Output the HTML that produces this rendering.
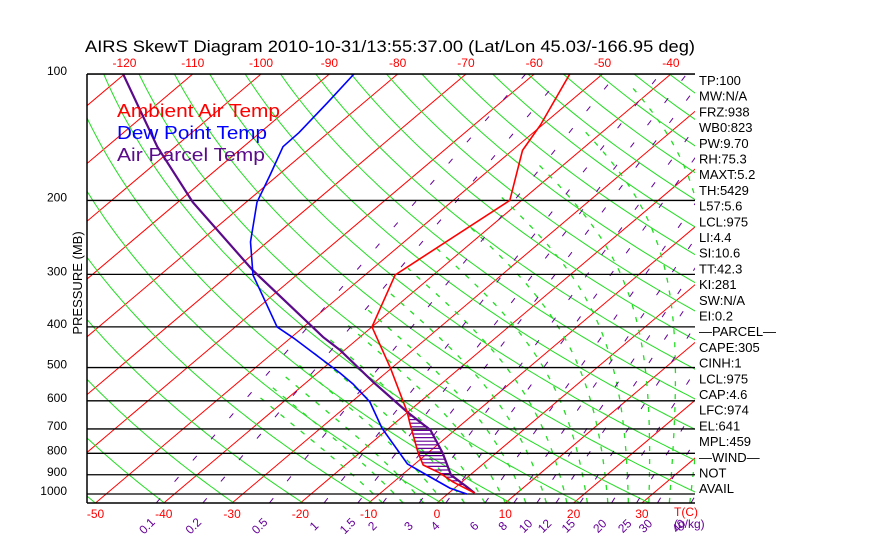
<!DOCTYPE html>
<html><head><meta charset="utf-8"><style>
body{margin:0;background:#fff;}
svg{display:block;font-family:"Liberation Sans",sans-serif;}
</style></head><body>
<svg id="chart" width="870" height="560" viewBox="0 0 870 560">
<defs><clipPath id="plotclip"><rect x="87" y="74" width="608" height="429"/></clipPath></defs>
<text x="85" y="52" font-size="17" fill="#000" textLength="610" lengthAdjust="spacingAndGlyphs">AIRS SkewT Diagram 2010-10-31/13:55:37.00 (Lat/Lon 45.03/-166.95 deg)</text>
<g id="grid" clip-path="url(#plotclip)"></g>
<g id="series" clip-path="url(#plotclip)"></g>
<g id="labels"></g>
<text x="117" y="117" font-size="18" fill="#ff0000" textLength="163" lengthAdjust="spacingAndGlyphs">Ambient Air Temp</text>
<text x="117" y="139" font-size="18" fill="#0000ff" textLength="150" lengthAdjust="spacingAndGlyphs">Dew Point Temp</text>
<text x="117" y="161" font-size="18" fill="#5a0a8a" textLength="148" lengthAdjust="spacingAndGlyphs">Air Parcel Temp</text>
<text transform="translate(82,283) rotate(-90)" text-anchor="middle" font-size="13" fill="#000">PRESSURE (MB)</text>
</svg>
<script>
// ---- data ----
const tempP = [100,132,152,200,277,301,400,501,638,678,799,853,891,936,995];
const tempT = [-54.8,-50.3,-48.5,-41.7,-44.8,-45.6,-40.0,-30.2,-20.1,-17.8,-11.4,-8.6,-4.8,-1.3,3.8];
const dewP = [100,117,138,149,174,202,251,301,400,425,515,547,604,697,848,911,968,1000];
const dewT = [-86.4,-85.3,-84.3,-84.2,-81.2,-78.4,-72.5,-66.4,-53.9,-49.6,-36.7,-32.9,-27.3,-21.0,-11.1,-5.5,-0.7,2.8];
const parcelP = [100,149,202,293,423,454,541,638,704,799,901,962,995];
const parcelT = [-120.2,-102.6,-87.8,-67.3,-45.4,-40.7,-30.3,-20.1,-13.6,-7.8,-2.8,1.6,3.8];
const pressureTicks = [100,200,300,400,500,600,700,800,900,1000];
const topTempTicks = [-120,-110,-100,-90,-80,-70,-60,-50,-40];
const bottomTempTicks = [-50,-40,-30,-20,-10,0,10,20,30];
const mixRatios = [0.1,0.2,0.5,1,1.5,2,3,4,6,8,10,12,15,20,25,30,40];
const mixLabels = ["0.1","0.2","0.5","1","1.5","2","3","4","6","8","10","12","15","20","25","30","40"];
const sideInfo = ["TP:100","MW:N/A","FRZ:938","WB0:823","PW:9.70","RH:75.3","MAXT:5.2","TH:5429","L57:5.6","LCL:975","LI:4.4","SI:10.6","TT:42.3","KI:281","SW:N/A","EI:0.2","\u2014PARCEL\u2014","CAPE:305","CINH:1","LCL:975","CAP:4.6","LFC:974","EL:641","MPL:459","\u2014WIND\u2014","NOT","AVAIL"];

// ---- axes ----
const NS='http://www.w3.org/2000/svg';
const YB=503;
function yOf(p){return 74+420*Math.log10(p/100);}
function xOf(T,p){return 437+6.83*T+1.182*(YB-yOf(p));}
function mk(tag,parent,attrs){const e=document.createElementNS(NS,tag);for(const k in attrs)e.setAttribute(k,attrs[k]);parent.appendChild(e);return e;}
const grid=document.getElementById('grid'),series=document.getElementById('series'),labels=document.getElementById('labels');
const pAll=[];for(let p=1050;p>=95;p-=5)pAll.push(p);

// isotherms
for(let T=-140;T<=60;T+=10){
  const l=mk('line',grid,{x1:xOf(T,1070),y1:yOf(1070),x2:xOf(T,95),y2:yOf(95),stroke:'#ff0000','stroke-width':1});
  
  
}
// dry adiabats
for(let th=180;th<=520;th+=10){
  const d=pAll.map((p,i)=>(i?'L':'M')+xOf(th*Math.pow(p/1000,0.286)-273.15,p).toFixed(1)+','+yOf(p).toFixed(1)).join('');
  const e=mk('path',grid,{d:d,fill:'none',stroke:'#22dd22','stroke-width':1});
  
  
}
// moist adiabats (drawn until -45C)
function es(T){return 6.112*Math.exp(17.67*T/(T+243.5));}
for(let T0=-8;T0<=44;T0+=3){
  let T=T0+273.15,pts=[];
  for(let p=1050;p>=100;p-=5){
    if(T-273.15<-45)break;
    pts.push([xOf(T-273.15,p),yOf(p)]);
    const e=es(T-273.15),rs=0.622*e/(p-e);
    const dTdp=(287*T+2.5e6*rs)/(p*(1004+2.5e6*2.5e6*rs*0.622/(287*T*T)));
    T-=dTdp*5;
  }
  if(pts.length<2)continue;
  const e=mk('path',grid,{d:pts.map((q,i)=>(i?'L':'M')+q[0].toFixed(1)+','+q[1].toFixed(1)).join(''),fill:'none',stroke:'#22dd22','stroke-width':1.3,'stroke-dasharray':'5 8'});
  
  
}
// mixing ratio lines
function tdFromW(w,p){const e=w*p/(622+w);const l=Math.log(e/6.112);return 243.5*l/(17.67-l);}
mixRatios.forEach((w,i)=>{
  const d=[1050,100].map((p,j)=>(j?'L':'M')+xOf(tdFromW(w,p),p).toFixed(1)+','+yOf(p).toFixed(1)).join('');
  const e=mk('path',grid,{d:d,fill:'none',stroke:'#660099','stroke-width':1,'stroke-dasharray':'6 22'});
  
  
  const x=437+6.83*tdFromW(w,1000)-6;
  const t=mk('text',labels,{x:x,y:530,'font-size':12,fill:'#660099','text-anchor':'middle',transform:`rotate(-45 ${x} 526)`});
  t.textContent=mixLabels[i];
  
  
});
// pressure lines
pressureTicks.forEach(p=>{
  const l=mk('line',grid,{x1:87,y1:yOf(p),x2:695,y2:yOf(p),stroke:'#000','stroke-width':1.3});
  
  
  const t=mk('text',labels,{x:67,y:yOf(p)+1,'font-size':12,'text-anchor':'end',fill:'#000'});
  t.textContent=p;
  
  
});
// borders
[[87,74,695,74],[87,74,87,503],[87,503,695,503]].forEach(c=>{
  const l=mk('line',labels,{x1:c[0],y1:c[1],x2:c[2],y2:c[3],stroke:'#000','stroke-width':1.5});
  
  
});
topTempTicks.forEach(T=>{
  const t=mk('text',labels,{x:xOf(T,100),y:67,'font-size':12,fill:'#ff0000','text-anchor':'middle'});
  t.textContent=T;
  
  
});
bottomTempTicks.forEach(T=>{
  const t=mk('text',labels,{x:437+6.83*T,y:518,'font-size':12,fill:'#ff0000','text-anchor':'middle'});
  t.textContent=T;
  
  
});
{const t=mk('text',labels,{x:674,y:516,'font-size':12,fill:'#ff0000'});t.textContent='T(C)';


const u=mk('text',labels,{x:674,y:528,'font-size':12,fill:'#660099'});u.textContent='(g/kg)';

}
sideInfo.forEach((s,i)=>{
  const t=mk('text',labels,{x:699,y:85+i*15.7,'font-size':13,fill:'#000'});
  t.textContent=s;
  
  
});

// ---- series ----
function pts(P,T){return P.map((p,i)=>[xOf(T[i],p),yOf(p)]);}
function xAtY(ps,y){for(let i=0;i<ps.length-1;i++){const a=ps[i],b=ps[i+1];if(y>=a[1]&&y<=b[1]){return a[0]+(b[0]-a[0])*(y-a[1])/(b[1]-a[1]);}}return null;}
const tp=pts(tempP,tempT),dp=pts(dewP,dewT),pp=pts(parcelP,parcelT);
for(let y=yOf(parcelP[0]);y<=yOf(1000);y+=3.6){
  const a=xAtY(tp,y),b=xAtY(pp,y);
  if(a!==null&&b!==null&&b>a+1){
    const l=mk('line',series,{x1:a,y1:y,x2:b,y2:y,stroke:'#660099','stroke-width':1.2});
    
    
  }
}
function line(ps,color,w,name){
  const e=mk('polyline',series,{points:ps.map(q=>q[0].toFixed(1)+','+q[1].toFixed(1)).join(' '),fill:'none',stroke:color,'stroke-width':w});
  
  
}
line(pp,'#5a0a8a',2.2,'parcel-temp-line');
line(dp,'#0000ff',1.6,'dew-point-line');
line(tp,'#ff0000',1.6,'ambient-temp-line');
</script>
</body></html>
